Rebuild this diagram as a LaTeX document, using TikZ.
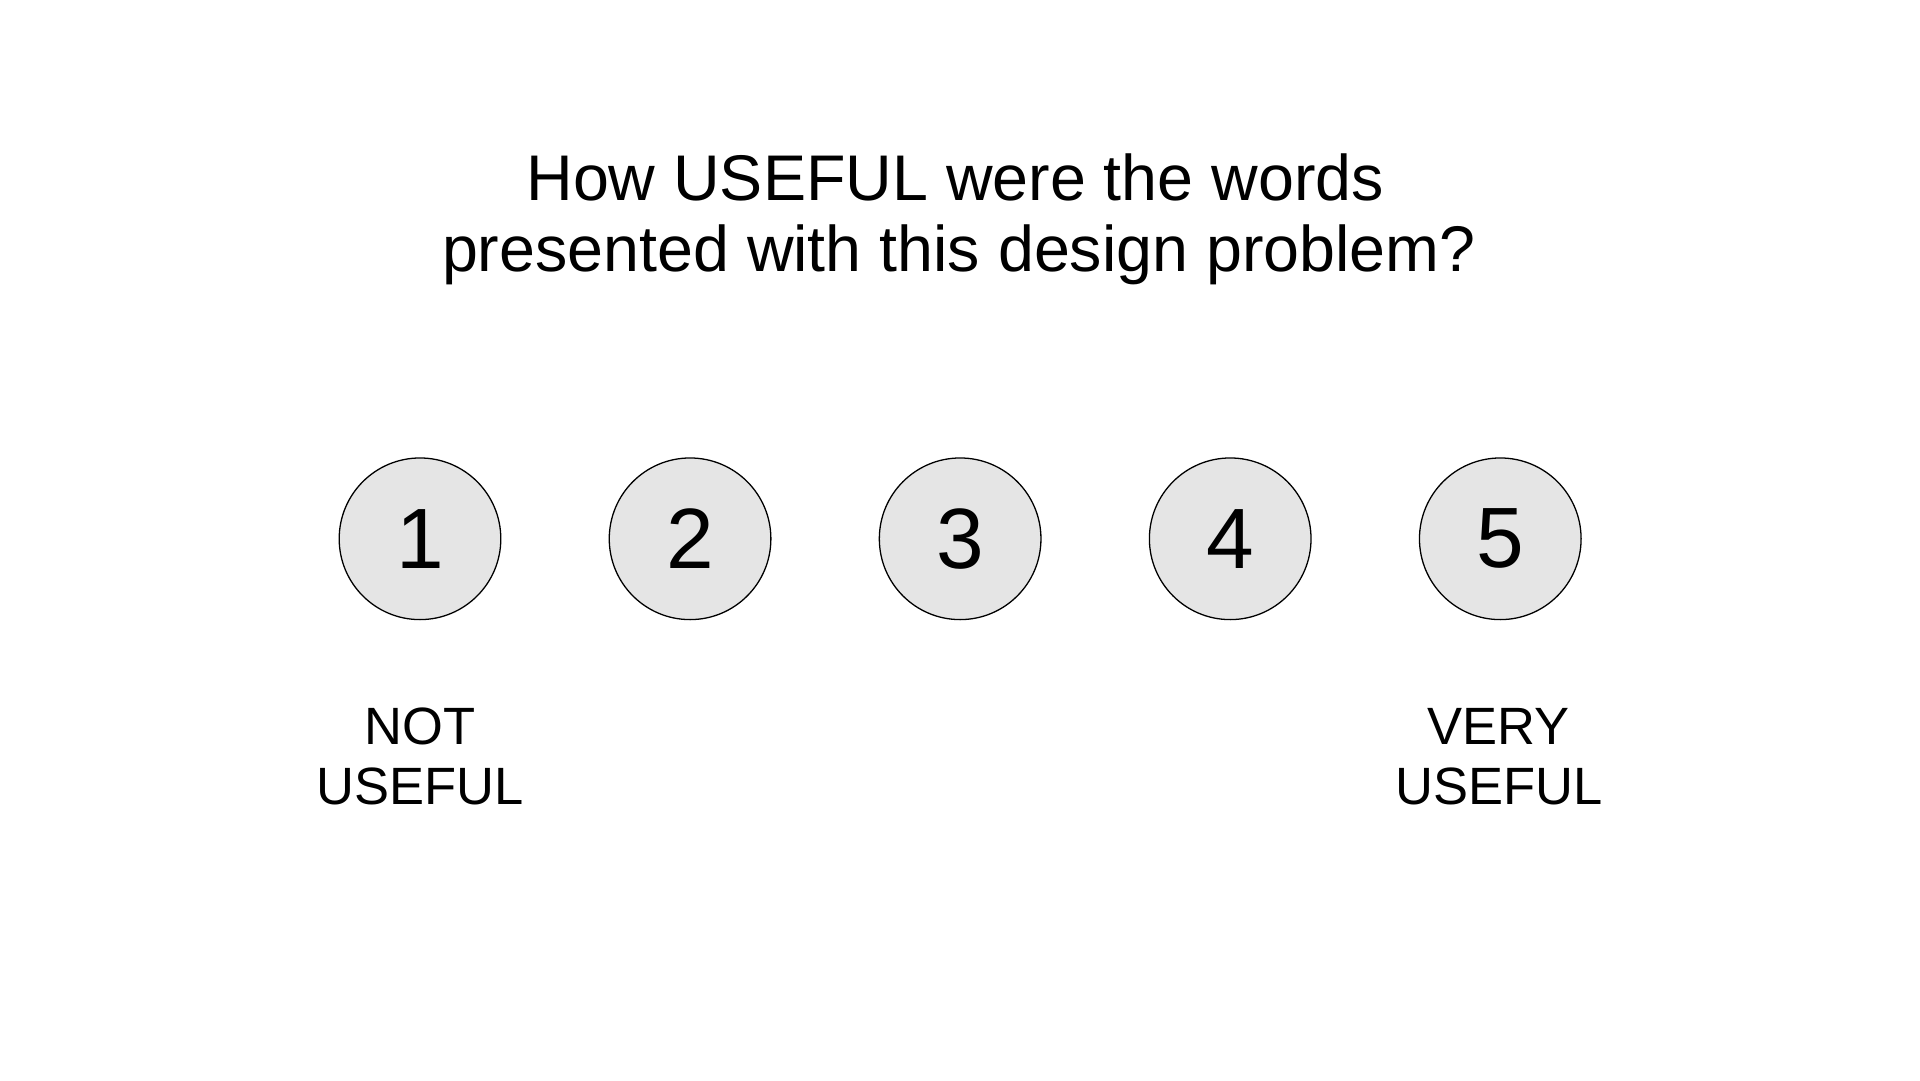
\documentclass[tikz,border=0pt]{standalone}
\usepackage{fontspec}
\setmainfont{Liberation Sans}
\usepackage{tikz}
\usetikzlibrary{positioning}

\begin{document}
\begin{tikzpicture}[
    scalebubble/.style={circle, draw=black, line width=0.3pt, fill=black!10, minimum size=1.32cm, inner sep=0pt, font=\fontsize{19.9}{22}\selectfont},
    endlabel/.style={anchor=base, align=center, font=\fontsize{12.2}{13.9}\selectfont},
    question/.style={anchor=base, font=\fontsize{15}{17}\selectfont}
  ]
            \useasboundingbox (0,0) rectangle (15.68,8.82);

            \node[question] (qtop) at (7.80,7.18) {How USEFUL were the words};
            \node[question] (qbot) at (7.83,6.60) {presented with this design problem?};

            \node[scalebubble] (one) at (3.43,4.42) {1};
            \node[scalebubble, right=0.875cm of one] (two) {2};
            \node[scalebubble, right=0.875cm of two] (three) {3};
            \node[scalebubble, right=0.875cm of three] (four) {4};
            \node[scalebubble, right=0.875cm of four] (five) {5};

            % base of these is the lower line
            \node[endlabel] (notlbl) at (3.43,2.25) {NOT\\USEFUL};
            \node[endlabel] (verylbl) at (12.24,2.25) {VERY\\USEFUL};
        \end{tikzpicture}
\end{document}
